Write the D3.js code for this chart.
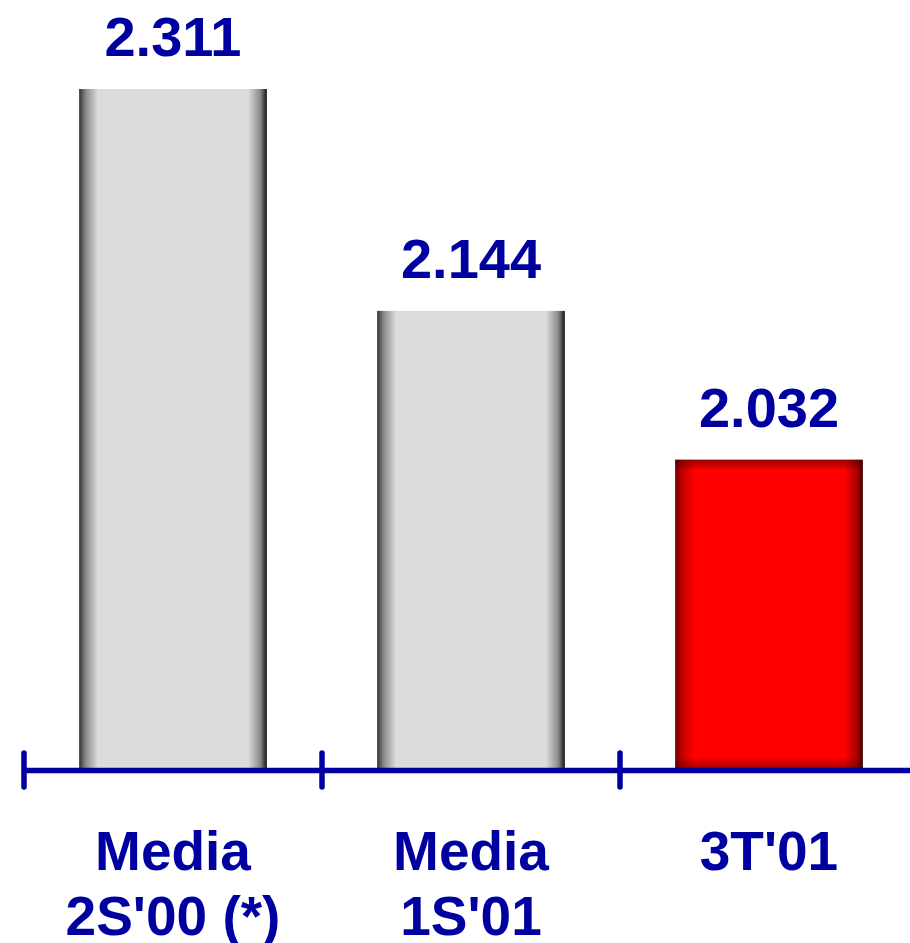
<!DOCTYPE html>
<html><head><meta charset="utf-8">
<script src="https://cdn.jsdelivr.net/npm/d3@7"></script>
<style>body{margin:0;background:#fff;}svg{display:block;}</style>
</head><body>
<script>
const categories = [["Media","2S'00 (*)"],["Media","1S'01"],["3T'01"]];
const values = [2.311, 2.144, 2.032];
const valueLabels = ["2.311","2.144","2.032"];
const highlight = [false, false, true];

const W = 910, H = 943;
const blue = "#0000A0";
const svg = d3.select("body").append("svg").attr("width", W).attr("height", H);

const x = d3.scaleBand().domain(d3.range(values.length))
  .range([24, 918]).paddingInner(0.37).paddingOuter(0.185);
const y = d3.scaleLinear().domain([1.8, 2.311]).range([768, 89]);

const defs = svg.append("defs");
function hgrad(id, edgeL, mid1, face, mid2, edgeR){
  const g = defs.append("linearGradient").attr("id", id).attr("x1",0).attr("x2",1).attr("y1",0).attr("y2",0);
  [[0,edgeL],[0.035,mid1],[0.1,face],[0.9,face],[0.965,mid2],[1,edgeR]].forEach(([o,c])=>
    g.append("stop").attr("offset",o).attr("stop-color",c));
}
hgrad("gGray","#333333","#8a8a8a","#dcdcdc","#8a8a8a","#151515");
hgrad("gRed","#700000","#c00000","#ff0000","#b00000","#400000");
const vg = defs.append("linearGradient").attr("id","vShade").attr("x1",0).attr("x2",0).attr("y1",0).attr("y2",1);
[[0,0.55],[0.035,0],[0.965,0],[1,0.45]].forEach(([o,a])=>
  vg.append("stop").attr("offset",o).attr("stop-color","#400000").attr("stop-opacity",a));

const bars = svg.append("g");
values.forEach((v,i)=>{
  bars.append("rect").attr("x", x(i)).attr("y", y(v)).attr("width", x.bandwidth())
    .attr("height", y(1.8)-y(v)).attr("fill", highlight[i] ? "url(#gRed)" : "url(#gGray)");
  if (highlight[i]) {
    bars.append("rect").attr("x", x(i)).attr("y", y(v)).attr("width", x.bandwidth())
      .attr("height", y(1.8)-y(v)).attr("fill", "url(#vShade)");
  }
  svg.append("text").attr("x", x(i)+x.bandwidth()/2).attr("y", y(v)-33)
    .attr("text-anchor","middle").attr("fill", blue)
    .attr("font-family","Liberation Sans, Arial, sans-serif").attr("font-weight","bold")
    .attr("font-size", 56).text(valueLabels[i]);
});

// axis
const step = x.step();
const axisY = 770.5;
const g = svg.append("g").attr("stroke", blue).attr("stroke-width", 5.5).attr("stroke-linecap","round");
g.append("line").attr("x1", x.range()[0]).attr("x2", W+5).attr("y1", axisY).attr("y2", axisY).attr("stroke-linecap","butt");
d3.range(values.length).forEach(i=>{
  const tx = x(i) - step*x.paddingInner()/2;
  g.append("line").attr("x1", tx).attr("x2", tx).attr("y1", 753).attr("y2", 787);
});

// category labels
values.forEach((v,i)=>{
  const t = svg.append("text").attr("text-anchor","middle").attr("fill", blue)
    .attr("font-family","Liberation Sans, Arial, sans-serif").attr("font-weight","bold")
    .attr("font-size", 55);
  categories[i].forEach((line,j)=>{
    t.append("tspan").attr("x", x(i)+x.bandwidth()/2).attr("y", 870 + j*65).text(line);
  });
});
</script>
</body></html>
